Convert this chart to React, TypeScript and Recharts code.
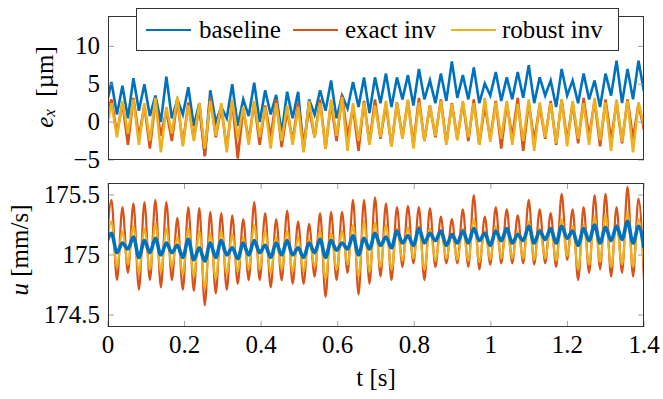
import React from 'react';
import { LineChart, Line, XAxis, YAxis } from 'recharts';

// sample grid: one sample every half period of the ~35 Hz ripple
const T0 = -0.0053;
const DT = 0.01434;

// e_x [µm] -- even samples (troughs side) / odd samples (peaks side)
const exBaseEven = [2.0,
  1.0, 0.5, 1.5, 0.8, 0.0, 0.5, 1.0, -0.5, -4.5, 0.0, 0.5, -0.5, 0.8, 0.0, 1.0, -1.5,
  0.5, -3.8, 1.0, 1.5, 0.5, 1.8, 2.0, 1.2, 2.5, 2.0, 3.0, 2.2, 3.0, 2.5, 2.8, 3.2,
  3.0, 2.5, 3.5, 2.8, 3.0, 3.2, 2.5, 3.5, 2.0, 3.5, 2.5, 3.0, 2.0, 3.5, 2.5, 3.0, 4.0];
const exBaseOdd = [
  5.3, 4.8, 5.8, 5.0, 3.5, 6.0, 3.0, 4.6, 2.5, 4.2, 2.0, 5.0, 3.0, 5.2, 4.2, 3.6, 4.0,
  4.0, 3.0, 4.2, 5.5, 3.5, 5.3, 5.9, 5.9, 6.4, 5.9, 6.2, 7.0, 5.5, 6.4, 8.0,
  6.2, 7.2, 5.1, 6.6, 5.9, 6.6, 7.5, 5.9, 5.5, 7.0, 5.5, 6.4, 5.5, 6.4, 8.1, 7.0, 8.1];
const exExactEven = [0.5,
  -1.5, -3.0, -2.0, -3.5, -1.8, -2.5, -3.0, -2.2, -4.5, -2.0, -3.5, -4.8, -2.5, -3.0, -2.0, -3.3,
  -2.5, -3.0, -2.0, -3.5, -2.5, -2.0, -3.8, -2.8, -2.2, -3.2, -2.0, -3.0, -2.5, -2.0, -2.8, -2.2,
  -2.5, -3.0, -2.2, -3.5, -2.0, -3.8, -2.5, -2.2, -3.0, -2.5, -2.8, -2.0, -3.2, -2.4, -2.8, -2.2, -1.0];
const exExactOdd = [
  3.0, 2.5, 3.2, 2.2, 2.8, 1.5, 3.0, 2.6, 2.0, 3.3, 2.0, 2.8, 1.8, 2.6, 2.2, 3.0, 1.5,
  2.5, 1.8, 3.0, 2.6, 3.6, 2.0, 2.8, 3.0, 2.4, 2.6, 2.8, 3.2, 2.2, 3.0, 2.5,
  2.6, 3.0, 2.2, 2.8, 2.5, 3.2, 2.6, 2.2, 2.8, 3.0, 2.5, 3.2, 2.8, 3.0, 2.6, 3.0, 2.4];
const exRobustEven = [-1.0,
  -2.0, -1.5, -3.0, -2.5, -4.0, -1.5, -3.2, -2.5, -3.5, -1.8, -4.0, -2.2, -3.0, -2.0, -3.5, -2.5,
  -3.0, -4.0, -2.0, -3.5, -1.8, -3.8, -2.5, -3.0, -2.0, -3.2, -2.2, -3.5, -2.5, -1.8, -3.0, -2.4,
  -2.0, -3.0, -2.6, -2.2, -3.0, -2.5, -3.8, -2.0, -2.8, -3.2, -2.2, -3.0, -2.4, -3.8, -2.6, -4.0, -0.5];
const exRobustOdd = [
  2.5, 2.8, 3.0, 2.5, 3.2, 2.0, 3.3, 2.2, 2.5, 2.8, 2.5, 3.0, 2.0, 2.8, 2.0, 2.5, 2.2,
  2.0, 2.8, 2.5, 3.0, 3.3, 2.5, 2.6, 2.2, 2.8, 2.5, 3.0, 2.6, 2.2, 2.8, 2.4,
  2.8, 2.5, 3.2, 2.6, 2.8, 2.4, 3.0, 2.6, 2.5, 3.0, 2.8, 2.5, 3.2, 2.6, 3.0, 2.8, 2.6];

// u [mm/s]
const uBaseEven = [175.08,
  175.02, 175.05, 174.98, 175.02, 175.00, 175.02, 174.98, 174.96, 174.95, 174.98, 175.00, 174.97, 175.00, 175.02, 174.98, 175.00,
  175.00, 174.98, 175.02, 174.98, 175.04, 175.05, 175.00, 175.05, 175.08, 175.06, 175.10, 175.08, 175.10, 175.12, 175.08, 175.10,
  175.10, 175.12, 175.08, 175.12, 175.10, 175.12, 175.10, 175.13, 175.10, 175.14, 175.08, 175.12, 175.10, 175.12, 175.13, 175.10, 175.06];
const uBaseOdd = [
  175.18, 175.10, 175.15, 175.12, 175.14, 175.10, 175.08, 175.13, 175.06, 175.10, 175.12, 175.06, 175.10, 175.12, 175.08, 175.10, 175.12,
  175.06, 175.10, 175.13, 175.12, 175.10, 175.16, 175.14, 175.18, 175.15, 175.20, 175.16, 175.22, 175.18, 175.20, 175.17,
  175.20, 175.22, 175.18, 175.20, 175.22, 175.17, 175.24, 175.20, 175.22, 175.24, 175.20, 175.22, 175.25, 175.23, 175.24, 175.28, 175.24];
const uExactEven = [174.98,
  174.79, 174.85, 174.71, 174.79, 174.73, 174.79, 174.71, 174.70, 174.58, 174.68, 174.71, 174.76, 174.79, 174.79, 174.73, 174.79,
  174.76, 174.76, 174.82, 174.65, 174.79, 174.85, 174.67, 174.76, 174.82, 174.79, 174.90, 174.93, 174.79, 174.90, 174.93, 174.93,
  174.90, 174.88, 174.92, 174.93, 174.93, 174.93, 174.92, 174.93, 174.90, 174.96, 174.79, 174.85, 174.88, 174.82, 174.85, 174.82, 174.79];
const uExactOdd = [
  175.46, 175.40, 175.43, 175.44, 175.46, 175.44, 175.31, 175.40, 175.39, 175.36, 175.35, 175.33, 175.30, 175.44, 175.35, 175.30, 175.37,
  175.28, 175.26, 175.35, 175.36, 175.36, 175.46, 175.46, 175.48, 175.43, 175.40, 175.41, 175.40, 175.39, 175.32, 175.30,
  175.38, 175.50, 175.32, 175.40, 175.38, 175.33, 175.46, 175.38, 175.35, 175.51, 175.38, 175.40, 175.50, 175.51, 175.40, 175.57, 175.47];
const uRobustEven = [175.0,
  174.90, 174.92, 174.85, 174.88, 174.86, 174.90, 174.84, 174.82, 174.72, 174.80, 174.84, 174.86, 174.88, 174.88, 174.85, 174.88,
  174.86, 174.86, 174.90, 174.80, 174.88, 174.92, 174.82, 174.86, 174.90, 174.88, 174.95, 174.97, 174.88, 174.95, 174.97, 174.96,
  174.95, 174.94, 174.96, 174.97, 174.97, 174.97, 174.96, 174.97, 174.95, 174.99, 174.88, 174.92, 174.94, 174.90, 174.92, 174.90, 174.90];
const uRobustOdd = [
  175.28, 175.20, 175.24, 175.22, 175.26, 175.22, 175.15, 175.22, 175.20, 175.18, 175.20, 175.17, 175.15, 175.25, 175.20, 175.15, 175.20,
  175.15, 175.14, 175.20, 175.18, 175.20, 175.25, 175.28, 175.27, 175.25, 175.22, 175.23, 175.24, 175.22, 175.20, 175.18,
  175.22, 175.30, 175.20, 175.24, 175.22, 175.20, 175.28, 175.22, 175.22, 175.30, 175.24, 175.25, 175.32, 175.33, 175.25, 175.36, 175.30];

const X_TICKS = [0, 0.2, 0.4, 0.6, 0.8, 1, 1.2, 1.4];
const EX_TICKS = [-5, 0, 5, 10];
const U_TICKS = [174.5, 175, 175.5];

const C_BASE = '#0072BD';
const C_EXACT = '#D95319';
const C_ROBUST = '#EDB120';
const FONT = 'Liberation Serif';
const FS = 25;
const TICK = '#a0a0a0';
const FRAME = '#333';

const PL = 108;
const PR = 644;
const N = 99;

const pick = (even: number[], odd: number[], j: number) => (j % 2 === 0 ? even[j / 2] : odd[(j - 1) / 2]);

const exData = Array.from({ length: N }, (_, j) => ({
  t: T0 + DT * j,
  baseline: pick(exBaseEven, exBaseOdd, j),
  exact: pick(exExactEven, exExactOdd, j),
  robust: pick(exRobustEven, exRobustOdd, j),
}));

const uData = Array.from({ length: N }, (_, j) => ({
  t: T0 + DT * j,
  baseline: pick(uBaseEven, uBaseOdd, j),
  exact: pick(uExactEven, uExactOdd, j),
  robust: pick(uRobustEven, uRobustOdd, j),
}));

const fmt = (v: number) => (v < 0 ? '\u2212' + Math.abs(v) : String(v));

const txt = { fontFamily: FONT, fontSize: FS, fill: '#000' };

// top plot: plot area y 16..160 inside its svg
const exYTick = ({ y, payload }: any) => (
  <g>
    <line x1={PL} x2={PL + 6} y1={y} y2={y} stroke={TICK} />
    <line x1={PR - 6} x2={PR} y1={y} y2={y} stroke={TICK} />
    <text x={100} y={y + 8} textAnchor="end" style={txt}>{fmt(payload.value)}</text>
  </g>
);
const exXTick = ({ x }: any) => (
  <g>
    <line x1={x} x2={x} y1={160} y2={154} stroke={TICK} />
    <line x1={x} x2={x} y1={16} y2={22} stroke={TICK} />
  </g>
);

// bottom plot: plot area y 13..157 inside its svg
const uYTick = ({ y, payload }: any) => (
  <g>
    <line x1={PL} x2={PL + 6} y1={y} y2={y} stroke={TICK} />
    <line x1={PR - 6} x2={PR} y1={y} y2={y} stroke={TICK} />
    <text x={100} y={y + 8} textAnchor="end" style={txt}>{fmt(payload.value)}</text>
  </g>
);
const uXTick = ({ x, payload }: any) => (
  <g>
    <line x1={x} x2={x} y1={157} y2={151} stroke={TICK} />
    <line x1={x} x2={x} y1={13} y2={19} stroke={TICK} />
    <text x={x} y={183} textAnchor="middle" style={txt}>{fmt(payload.value)}</text>
  </g>
);

const ExLabel = () => (
  <text transform="translate(44,87) rotate(-90)" textAnchor="middle" dominantBaseline="central" style={txt}>
    <tspan fontStyle="italic">e</tspan>
    <tspan fontStyle="italic" fontSize={17} dy={5}>x</tspan>
    <tspan dy={-5}>{'\u00A0\u00A0[µm]'}</tspan>
  </text>
);
const ULabel = () => (
  <text transform="translate(19,80) rotate(-90)" textAnchor="middle" dominantBaseline="central" style={txt}>
    <tspan fontStyle="italic">u</tspan>
    <tspan>{'\u00A0[mm/s]'}</tspan>
  </text>
);
const TLabel = () => (
  <text x={376} y={216} textAnchor="middle" style={txt}>t [s]</text>
);

const legendItems = [
  { name: 'baseline', color: C_BASE, x0: 9, tx: 62 },
  { name: 'exact inv', color: C_EXACT, x0: 156, tx: 208 },
  { name: 'robust inv', color: C_ROBUST, x0: 314, tx: 365 },
];

export default function App() {
  return (
    <div style={{ position: 'absolute', left: 0, top: 0, width: 663, height: 399, background: '#fff' }}>
      <div style={{ position: 'absolute', left: 0, top: 0 }}>
        <LineChart width={663} height={175} data={exData} margin={{ top: 16, right: 19, bottom: 15, left: 0 }}>
          <XAxis dataKey="t" type="number" domain={[0, 1.4]} ticks={X_TICKS} allowDataOverflow height={0}
            axisLine={false} tickLine={false} tick={exXTick} interval={0} />
          <YAxis type="number" domain={[-5, 14]} ticks={EX_TICKS} allowDataOverflow width={108}
            axisLine={false} tickLine={false} tick={exYTick} interval={0} label={<ExLabel />} />
          <Line dataKey="baseline" stroke={C_BASE} strokeWidth={2.6} dot={false} isAnimationActive={false} />
          <Line dataKey="exact" stroke={C_EXACT} strokeWidth={2.6} dot={false} isAnimationActive={false} />
          <Line dataKey="robust" stroke={C_ROBUST} strokeWidth={2.6} dot={false} isAnimationActive={false} />
        </LineChart>
      </div>
      <div style={{ position: 'absolute', left: 0, top: 170 }}>
        <LineChart width={663} height={229} data={uData} margin={{ top: 13, right: 19, bottom: 32, left: 0 }}>
          <XAxis dataKey="t" type="number" domain={[0, 1.4]} ticks={X_TICKS} allowDataOverflow height={40}
            axisLine={false} tickLine={false} tick={uXTick} interval={0} label={<TLabel />} />
          <YAxis type="number" domain={[174.4, 175.6]} ticks={U_TICKS} allowDataOverflow width={108}
            axisLine={false} tickLine={false} tick={uYTick} interval={0} label={<ULabel />} />
          <Line type="monotone" dataKey="exact" stroke={C_EXACT} strokeWidth={2.2} dot={false} isAnimationActive={false} />
          <Line type="monotone" dataKey="robust" stroke={C_ROBUST} strokeWidth={2.2} dot={false} isAnimationActive={false} />
          <Line type="monotone" dataKey="baseline" stroke={C_BASE} strokeWidth={3.6} dot={false} isAnimationActive={false} />
        </LineChart>
      </div>
      {/* axis boxes */}
      <div style={{ position: 'absolute', left: PL, top: 16, width: PR - PL, height: 144, border: `1px solid ${FRAME}`, boxSizing: 'border-box', pointerEvents: 'none' }} />
      <div style={{ position: 'absolute', left: PL, top: 183, width: PR - PL, height: 144, border: `1px solid ${FRAME}`, boxSizing: 'border-box', pointerEvents: 'none' }} />
      {/* legend */}
      <div style={{ position: 'absolute', left: 136, top: 8, width: 483, height: 43, border: `1px solid ${FRAME}`, boxSizing: 'border-box', background: '#fff' }}>
        <svg width={481} height={41} style={{ display: 'block' }}>
          {legendItems.map(it => (
            <g key={it.name}>
              <line x1={it.x0} x2={it.x0 + 45} y1={21} y2={21} stroke={it.color} strokeWidth={2} />
              <text x={it.tx} y={29} style={txt}>{it.name}</text>
            </g>
          ))}
        </svg>
      </div>
    </div>
  );
}
